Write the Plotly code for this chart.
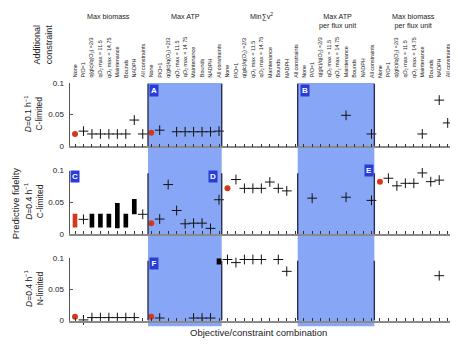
import plotly.graph_objects as go

# The page places the figure 8px in from the top-left corner, so the figure is 8px
# smaller and all pixel positions below are given in window pixels, shifted by OFF.
OFF = 8
W, H = 458 - OFF, 345 - OFF
FONT = "Liberation Sans, Arial, sans-serif"

groups = ["Max biomass", "Max ATP", "Min∑v<sup>2</sup>", "Max ATP<br>per flux unit", "Max biomass<br>per flux unit"]
constraints = ["None", "P/O=1", "q(glc)/q(O<sub>2</sub>) =2/3", "qO<sub>2</sub> max = 11.5",
               "qO<sub>2</sub> max = 14.75", "Maintenance", "Bounds", "NADPH", "All constraints"]
N = len(groups) * len(constraints)
idx = list(range(N))

# ---- panel 1: D=0.1 h-1, C-limited
p1_red = {0: 0.0195, 9: 0.0215}
p1_plus = {1: 0.024, 2: 0.0195, 3: 0.0195, 4: 0.0195, 5: 0.0195, 6: 0.0195, 7: 0.0415, 8: 0.0195,
           10: 0.0255, 12: 0.023, 13: 0.023, 14: 0.023, 15: 0.023, 16: 0.023, 17: 0.024,
           32: 0.049, 35: 0.0195, 41: 0.0195, 43: 0.073, 44: 0.037}
# ---- panel 2: D=0.4 h-1, C-limited
p2_red = {9: 0.017, 18: 0.072, 27: 0.105, 36: 0.0826}
p2_plus = {1: 0.023, 8: 0.031, 10: 0.0235, 11: 0.078, 12: 0.037, 13: 0.016, 14: 0.017, 15: 0.017,
           16: 0.0088, 17: 0.054, 19: 0.086, 20: 0.072, 21: 0.072, 22: 0.072, 23: 0.082, 24: 0.072,
           25: 0.068, 26: 0.1066, 28: 0.0565, 29: 0.1066, 30: 0.1066, 31: 0.1066, 32: 0.058,
           33: 0.1066, 34: 0.112, 35: 0.053, 37: 0.088, 38: 0.076, 39: 0.080, 40: 0.080,
           41: 0.0964, 42: 0.0826, 43: 0.085, 44: 0.108}
p2_bar_x = [0, 2, 3, 4, 5, 6, 7]
p2_bar_low = [0.010, 0.010, 0.010, 0.010, 0.009, 0.010, 0.031]
p2_bar_high = [0.032, 0.032, 0.032, 0.032, 0.049, 0.032, 0.055]
p2_bar_red = [True, False, False, False, False, False, False]
# ---- panel 3: D=0.4 h-1, N-limited
p3_red = {0: 0.006, 9: 0.0062}
p3_plus = {1: 0.001, 2: 0.0047, 3: 0.0047, 4: 0.0047, 5: 0.0047, 6: 0.0047, 7: 0.0047,
           10: 0.004, 14: 0.004, 15: 0.004, 16: 0.004, 18: 0.098, 19: 0.093, 20: 0.098,
           21: 0.098, 22: 0.098, 24: 0.098, 25: 0.079, 43: 0.072}
p3_bar_x = [17]
p3_bar_low = [0.090]
p3_bar_high = [0.100]

bands = [(8.62, 17.32), (26.29, 35.34)]
row_labels = ["<i>D</i>=0.1 h<sup>−1</sup><br>C-limited",
              "<i>D</i>=0.4 h<sup>−1</sup><br>C-limited",
              "<i>D</i>=0.4 h<sup>−1</sup><br>N-limited"]
letters = [("A", 153.5, 89), ("B", 305, 89), ("C", 75, 177), ("D", 212.5, 177), ("E", 368.5, 171), ("F", 153.5, 266)]

# ---- geometry (window pixel -> paper fraction)
def px(x):
    return (x - OFF) / W
def py(y):
    return 1 - (y - OFF) / H

panels = [(81, 146), (171, 236), (261, 325)]   # window px of 0.1 and 0
s = 372.7 / 44
x_left = 69.5
r0 = -(75 - x_left) / s
r1 = r0 + (458 - x_left) / s

RED = "#d2391b"
fig = go.Figure()

axes = [("x", "y"), ("x2", "y2"), ("x3", "y3")]
reds = [p1_red, p2_red, p3_red]
pluses = [p1_plus, p2_plus, p3_plus]
for k, (xa, ya) in enumerate(axes):
    pl = pluses[k]
    fig.add_trace(go.Scatter(x=list(pl.keys()), y=list(pl.values()), mode="markers", xaxis=xa, yaxis=ya,
                             marker=dict(symbol="cross-thin", size=7, line=dict(width=1, color="#111")),
                             cliponaxis=False, showlegend=False))
    rd = reds[k]
    fig.add_trace(go.Scatter(x=list(rd.keys()), y=list(rd.values()), mode="markers", xaxis=xa, yaxis=ya,
                             marker=dict(symbol="circle", size=6, color=RED),
                             cliponaxis=False, showlegend=False))

fig.add_trace(go.Bar(x=p2_bar_x, base=p2_bar_low, y=[h - l for h, l in zip(p2_bar_high, p2_bar_low)],
                     width=0.55, marker=dict(color=[RED if r else "#000" for r in p2_bar_red], line=dict(width=0)),
                     xaxis="x2", yaxis="y2", showlegend=False))
fig.add_trace(go.Bar(x=p3_bar_x, base=p3_bar_low, y=[h - l for h, l in zip(p3_bar_high, p3_bar_low)],
                     width=0.55, marker=dict(color="#000", line=dict(width=0)),
                     xaxis="x3", yaxis="y3", showlegend=False))

shapes = []
for a, b in bands:
    shapes.append(dict(type="rect", xref="x", yref="paper", x0=a, x1=b, y0=py(331), y1=py(81),
                       fillcolor="#87a7f6", line=dict(width=0), layer="below"))
for k, (xa, ya) in enumerate(axes):
    for a, b in bands:
        for xv in (a, b):
            shapes.append(dict(type="line", xref=xa, yref=ya, x0=xv, x1=xv, y0=0, y1=0.096 if k else 0.099,
                               line=dict(color="#2c3050", width=1.4), layer="above"))

layout = dict(width=W, height=H, margin=dict(l=0, r=0, t=0, b=0), paper_bgcolor="white",
              plot_bgcolor="rgba(0,0,0,0)", barmode="overlay", showlegend=False,
              font=dict(family=FONT, color="#222"), shapes=shapes)
for k, (xa, ya) in enumerate(axes):
    top, bot = panels[k]
    xname = "xaxis" if k == 0 else f"xaxis{k+1}"
    yname = "yaxis" if k == 0 else f"yaxis{k+1}"
    layout[xname] = dict(domain=[px(x_left), 1], range=[r0, r1], anchor=ya, showline=True, linecolor="#8a8a8a",
                         linewidth=1.6, ticks="inside", ticklen=3, tickwidth=1, tickcolor="#333",
                         tickvals=idx, showticklabels=False, showgrid=False, zeroline=False, fixedrange=True)
    layout[yname] = dict(domain=[py(bot), py(top)], range=[0, 0.1], anchor=xa, showline=True, linecolor="#555",
                         linewidth=1, ticks="inside", ticklen=3, tickcolor="#555", tickvals=[0, 0.05, 0.1],
                         ticktext=["0", "0.05", "0.1"], tickfont=dict(size=8, color="#222"),
                         ticklabelstandoff=3, showgrid=False, zeroline=False, fixedrange=True)

ann = []
ng = len(constraints)
for g, name in enumerate(groups):
    c = g * ng + (ng - 1) / 2
    two = "<br>" in name
    ann.append(dict(x=c, xref="x", y=py(17.5 if two else 12.5), yref="paper", text=name, showarrow=False,
                    font=dict(size=7.2, color="#222"), xanchor="center", yanchor="middle"))
    for j, cname in enumerate(constraints):
        ann.append(dict(x=g * ng + j, xref="x", y=py(77.5), yref="paper", text=cname, showarrow=False,
                        textangle=-90, font=dict(size=5.4, color="#222"), xanchor="center", yanchor="bottom"))

for k, lab in enumerate(row_labels):
    top, bot = panels[k]
    ann.append(dict(x=px(34), y=py((top + bot) / 2 - 0.5), xref="paper", yref="paper", text=lab, showarrow=False,
                    textangle=-90, font=dict(size=8.5, color="#222"), xanchor="center", yanchor="middle"))

ann.append(dict(x=px(43.5), y=py(42), xref="paper", yref="paper", text="Additional<br>constraint", showarrow=False,
                textangle=-90, font=dict(size=9, color="#222"), xanchor="center", yanchor="middle"))
ann.append(dict(x=0, y=py(205), xref="paper", yref="paper", text="Predictive fidelity", showarrow=False,
                textangle=-90, font=dict(size=9.5, color="#222"), xanchor="left", yanchor="middle"))
ann.append(dict(x=px(258), y=py(337.5), xref="paper", yref="paper", text="Objective/constraint combination",
                showarrow=False, font=dict(size=9.5, color="#222"), xanchor="center", yanchor="middle"))

for t, lx, ly in letters:
    ann.append(dict(x=px(lx), y=py(ly), xref="paper", yref="paper", text=f"<b>{t}</b>", showarrow=False,
                    font=dict(size=8, color="white"), bgcolor="#2a3cd6", width=8, height=11, borderpad=0,
                    xanchor="center", yanchor="middle"))

layout["annotations"] = ann
fig.update_layout(**layout)
fig.write_html("out.html")
